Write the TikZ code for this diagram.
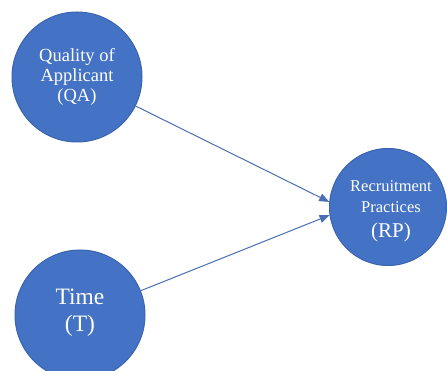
\documentclass[tikz,border=0pt]{standalone}
\usepackage{fontspec}
\setmainfont{Liberation Serif}
\usetikzlibrary{arrows.meta}
\definecolor{cfill}{HTML}{4472C4}
\definecolor{cdraw}{HTML}{3B64AE}
\definecolor{cline}{HTML}{4A6FB5}
\begin{document}
\begin{tikzpicture}[x=1pt,y=-1pt,
  bubble/.style={circle,fill=cfill,draw=cdraw,line width=1pt,inner sep=0pt},
  lbl/.style={text=white,align=center,inner sep=0pt},
  conn/.style={cline,line width=1pt,-{Triangle[length=10pt,width=8pt]}}]
\useasboundingbox (0,0) rectangle (447,371);
\begin{scope}
\clip (0,0) rectangle (447,371);
\node[bubble,minimum size=130pt] (QA) at (77,77) {};
\node[bubble,minimum size=130pt] (T) at (80,315) {};
\node[bubble,minimum size=117pt] (RP) at (388,207) {};
\end{scope}
\node[lbl,font=\fontsize{18.5}{20}\selectfont] (QAt) at (77,77) {Quality of\\Applicant\\(QA)};
\node[lbl,font=\fontsize{23.5}{27}\selectfont] (Tt) at (80,313) {Time\\(T)};
\node[lbl,font=\fontsize{16.5}{21}\selectfont] (RPt) at (391,211) {Recruitment\\Practices\\[4pt]{\fontsize{21}{25}\selectfont (RP)}};
\draw[conn] (QA) -- (RP.175);
\draw[conn] (T) -- (RP.188);
\end{tikzpicture}
\end{document}
